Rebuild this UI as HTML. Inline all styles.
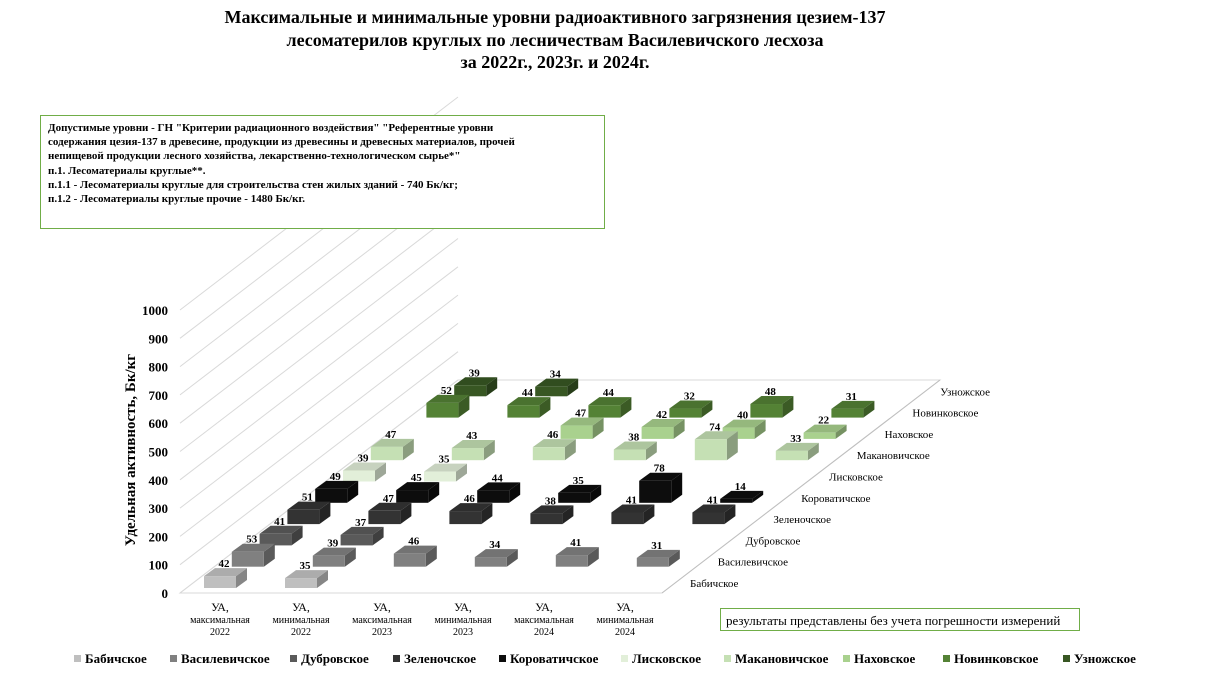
<!DOCTYPE html>
<html><head><meta charset="utf-8">
<style>
body{margin:0;background:#fff;}
#wrap{position:relative;width:1206px;height:676px;overflow:hidden;font-family:"Liberation Serif",serif;}
svg text{font-family:"Liberation Serif",serif;}
</style></head>
<body>
<div id="wrap">
<svg id="chart" width="1206" height="676" viewBox="0 0 1206 676">
  <g font-weight="bold" font-size="18" text-anchor="middle" fill="#000">
    <text x="555" y="23">Максимальные и минимальные уровни радиоактивного загрязнения цезием-137</text>
    <text x="555" y="46">лесоматерилов круглых по лесничествам Василевичского лесхоза</text>
    <text x="555" y="68">за 2022г., 2023г. и 2024г.</text>
  </g>
  <g id="grid"></g>
  <g id="floor"></g>
  <g id="bars"></g>
  <g id="yaxis"></g>
  <g id="xaxis"></g>
  <g id="zaxis"></g>
  <text transform="translate(135,450) rotate(-90)" text-anchor="middle" font-weight="bold" font-size="15">Удельная активность, Бк/кг</text>
  <g>
    <rect x="40.5" y="115.5" width="564" height="113" fill="#fff" stroke="#70ad47" stroke-width="1"/>
    <g font-size="11" font-weight="bold">
      <text x="48" y="131">Допустимые уровни - ГН "Критерии радиационного воздействия" "Референтные уровни</text>
      <text x="48" y="145">содержания цезия-137 в древесине, продукции из древесины и древесных материалов, прочей</text>
      <text x="48" y="159">непищевой продукции лесного хозяйства,  лекарственно-технологическом сырье*"</text>
      <text x="48" y="174">п.1. Лесоматериалы круглые**.</text>
      <text x="48" y="188">п.1.1 - Лесоматериалы круглые для строительства стен жилых зданий - 740 Бк/кг;</text>
      <text x="48" y="202">п.1.2 - Лесоматериалы круглые прочие - 1480 Бк/кг.</text>
    </g>
  </g>
  <g>
    <rect x="720.5" y="608.5" width="359" height="22" fill="#fff" stroke="#70ad47"/>
    <text x="726" y="625" font-size="13">результаты представлены без учета погрешности измерений</text>
  </g>
  <g id="legend"></g>
</svg>
</div>
<script>
const categories = ["УА,|максимальная|2022","УА,|минимальная|2022","УА,|максимальная|2023","УА,|минимальная|2023","УА,|максимальная|2024","УА,|минимальная|2024"];
const seriesNames = ["Бабичское","Василевичское","Дубровское","Зеленочское","Короватичское","Лисковское","Макановичское","Наховское","Новинковское","Узножское"];
const seriesColors = ["#bfbfbf","#808080","#5a5a5a","#333333","#0d0d0d","#e2efd9","#c5e0b4","#a9d18e","#548235","#385723"];
const sBabichskoe = [42,35,null,null,null,null];
const sVasilevichskoe = [53,39,46,34,41,31];
const sDubrovskoe = [41,37,null,null,null,null];
const sZelenochskoe = [51,47,46,38,41,41];
const sKorovatichskoe = [49,45,44,35,78,14];
const sLiskovskoe = [39,35,null,null,null,null];
const sMakanovichskoe = [47,43,46,38,74,33];
const sNakhovskoe = [null,null,47,42,40,22];
const sNovinkovskoe = [52,44,44,32,48,31];
const sUznozhskoe = [39,34,null,null,null,null];
const seriesValues = [sBabichskoe,sVasilevichskoe,sDubrovskoe,sZelenochskoe,sKorovatichskoe,sLiskovskoe,sMakanovichskoe,sNakhovskoe,sNovinkovskoe,sUznozhskoe];
const yTicks = [0,100,200,300,400,500,600,700,800,900,1000];
const legendX = [74,170,290,393,499,621,724,843,943,1063];

const NS="http://www.w3.org/2000/svg";
function mk(tag,attrs,parent){const e=document.createElementNS(NS,tag);for(const k in attrs)e.setAttribute(k,attrs[k]);parent.appendChild(e);return e;}
const X0=180, Y0=593, CAT=81, ROWDX=27.8, ROWDY=-21.3, SCALE=0.283, BW=32, BDX=11, BDY=-8;
function xPos(c,r){return X0+38+c*CAT+r*ROWDX-BW/2+2;}
function yBase(r){return Y0+r*ROWDY-5;}
function yScale(v){return v*SCALE;}
function shade(hex,f){const n=parseInt(hex.slice(1),16);let r=n>>16,g=(n>>8)&255,b=n&255;
  if(f<0){r=Math.round(r*(1+f));g=Math.round(g*(1+f));b=Math.round(b*(1+f));}
  else{r=Math.round(r+(255-r)*f);g=Math.round(g+(255-g)*f);b=Math.round(b+(255-b)*f);}
  return `rgb(${r},${g},${b})`;}

const grid=document.getElementById('grid');
const backDX=10*ROWDX, backDY=10*ROWDY;
yTicks.forEach(t=>{
  const y=Y0-yScale(t);
  const l=mk('line',{x1:X0,y1:y,x2:X0+backDX,y2:y+backDY,stroke:'#d9d9d9','stroke-width':1},grid);
  
  
});
const floor=document.getElementById('floor');
const fp=mk('polygon',{points:`${X0},${Y0} ${X0+482},${Y0} ${X0+482+backDX},${Y0+backDY} ${X0+backDX},${Y0+backDY}`,fill:'none',stroke:'#d9d9d9'},floor);



const yaxis=document.getElementById('yaxis');
yTicks.forEach(t=>{
  const tx=mk('text',{x:168,y:Y0-yScale(t)+5,'text-anchor':'end','font-size':13,'font-weight':'bold'},yaxis);
  tx.textContent=t;
  
  
});

const xaxis=document.getElementById('xaxis');
categories.forEach((c,i)=>{
  const parts=c.split('|');
  const cx=X0+38+i*CAT+2;
  parts.forEach((p,j)=>{
    const tx=mk('text',{x:cx,y:611+j*12+(j==0?0:0),'text-anchor':'middle','font-size':j==0?12:10},xaxis);
    tx.textContent=p;
    
    
  });
});

const zaxis=document.getElementById('zaxis');
const za=mk('line',{x1:X0+482,y1:Y0,x2:X0+482+backDX,y2:Y0+backDY,stroke:'#bfbfbf'},zaxis);


seriesNames.forEach((n,r)=>{
  const tx=mk('text',{x:X0+510+r*ROWDX,y:Y0-6+r*ROWDY,'font-size':11},zaxis);
  tx.textContent=n;
  
  
});

const bars=document.getElementById('bars');
for(let r=seriesValues.length-1;r>=0;r--){
  for(let c=0;c<categories.length;c++){
    const v=seriesValues[r][c];
    if(v==null)continue;
    const x=xPos(c,r), yb=yBase(r), h=yScale(v), yt=yb-h;
    const col=seriesColors[r];
    const g=mk('g',{},bars);
    
    
    mk('polygon',{points:`${x+BW},${yb} ${x+BW+BDX},${yb+BDY} ${x+BW+BDX},${yt+BDY} ${x+BW},${yt}`,fill:shade(col,-0.3)},g);
    mk('polygon',{points:`${x},${yt} ${x+BDX},${yt+BDY} ${x+BW+BDX},${yt+BDY} ${x+BW},${yt}`,fill:shade(col,r>=5?-0.12:-0.1)},g);
    mk('rect',{x:x,y:yt,width:BW,height:h,fill:col},g);
    const tx=mk('text',{x:x+BW/2+4,y:yt+BDY-1,'text-anchor':'middle','font-size':11,'font-weight':'bold'},g);
    tx.textContent=v;
    
    
  }
}

const legend=document.getElementById('legend');
seriesNames.forEach((n,i)=>{
  const g=mk('g',{},legend);
  
  
  mk('rect',{x:legendX[i],y:655,width:7,height:7,fill:seriesColors[i]},g);
  const tx=mk('text',{x:legendX[i]+11,y:663,'font-size':13,'font-weight':'bold'},g);
  tx.textContent=n;
});
</script>
</body></html>
